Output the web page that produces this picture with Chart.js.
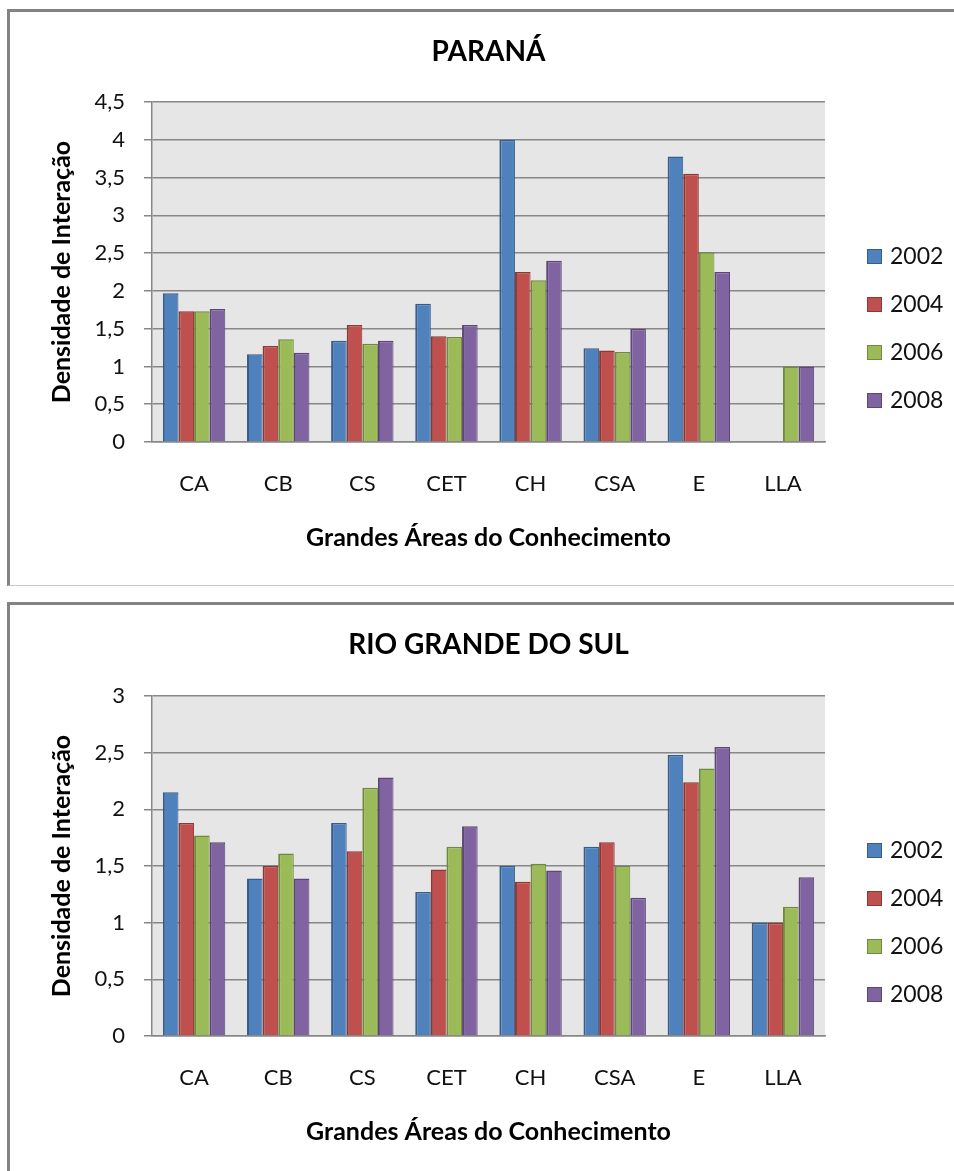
<!DOCTYPE html>
<html>
<head>
<meta charset="utf-8">
<title>Densidade de Interação — Paraná e Rio Grande do Sul</title>
<script src="https://cdn.jsdelivr.net/npm/chart.js@4.4.1/dist/chart.umd.min.js"></script>
<style>
  html, body { margin: 0; padding: 0; background: #fff; width: 954px; height: 1171px; overflow: hidden; }
  .frame { position: absolute; left: 7px; width: 960px; border-left: 3px solid #838383; border-top: 3px solid #838383; box-sizing: border-box; }
  #frameTop { top: 9px; height: 577px; border-bottom: 1px solid #c8c8c8; }
  #frameBottom { top: 602px; height: 600px; }
  canvas { position: absolute; left: 0; }
  #chartTop { top: 0; }
  #chartBottom { top: 594px; }
</style>
</head>
<body>
<div class="frame" id="frameTop"></div>
<div class="frame" id="frameBottom"></div>
<canvas id="chartTop" width="954" height="595"></canvas>
<canvas id="chartBottom" width="954" height="595"></canvas>
<script>
// Grandes áreas do conhecimento (eixo X)
const categories = ['CA', 'CB', 'CS', 'CET', 'CH', 'CSA', 'E', 'LLA'];
const years = ['2002', '2004', '2006', '2008'];

// Paraná — densidade de interação por ano
const parana2002 = [1.97, 1.16, 1.34, 1.83, 4.00, 1.24, 3.78, null];
const parana2004 = [1.73, 1.27, 1.55, 1.40, 2.25, 1.21, 3.55, null];
const parana2006 = [1.73, 1.36, 1.30, 1.39, 2.14, 1.19, 2.51, 1.00];
const parana2008 = [1.76, 1.18, 1.34, 1.55, 2.40, 1.50, 2.25, 1.00];

// Rio Grande do Sul — densidade de interação por ano
const rs2002 = [2.15, 1.39, 1.88, 1.27, 1.50, 1.67, 2.48, 1.00];
const rs2004 = [1.88, 1.50, 1.63, 1.47, 1.36, 1.71, 2.24, 1.00];
const rs2006 = [1.77, 1.61, 2.19, 1.67, 1.52, 1.50, 2.36, 1.14];
const rs2008 = [1.71, 1.39, 2.28, 1.85, 1.46, 1.22, 2.55, 1.40];

// Eixo Y: limites e passo
const paranaMax = 4.5;
const rsMax = 3;
const yStep = 0.5;

// Cores das séries
const fillColors = ['#4f81bd', '#c0504d', '#9bbb59', '#8064a2'];
const edgeColors = ['#385d8a', '#8c3836', '#71893f', '#5c4776'];

const FONT = "Lato, 'Open Sans', 'DejaVu Sans', sans-serif";
const GRID = '#878787';

// Fundo cinza da área de plotagem
const plotBackground = {
  id: 'plotBackground',
  beforeDraw(chart) {
    const { ctx, chartArea: a } = chart;
    ctx.save();
    ctx.fillStyle = '#e6e6e6';
    ctx.fillRect(a.left, a.top, a.right - a.left, a.bottom - a.top);
    ctx.restore();
  }
};

// Legenda vertical à direita do gráfico
const sideLegend = {
  id: 'sideLegend',
  afterDraw(chart) {
    const ctx = chart.ctx;
    const x = chart.chartArea.right + 42;
    const y0 = 256;
    const step = 48;
    ctx.save();
    ctx.font = '23px ' + FONT;
    ctx.textBaseline = 'middle';
    ctx.textAlign = 'left';
    chart.data.datasets.forEach((ds, i) => {
      const y = y0 + i * step;
      ctx.fillStyle = ds.backgroundColor;
      ctx.fillRect(x, y - 7, 15, 15);
      ctx.strokeStyle = ds.borderColor;
      ctx.lineWidth = 1;
      ctx.strokeRect(x + 0.5, y - 6.5, 14, 14);
      ctx.fillStyle = '#111';
      ctx.fillText(ds.label, x + 23, y + 1);
    });
    ctx.restore();
  }
};

function makeDatasets(series) {
  return series.map((values, i) => ({
    label: years[i],
    data: values,
    backgroundColor: fillColors[i],
    borderColor: edgeColors[i],
    borderWidth: { top: 1.5, left: 2, right: 1, bottom: 0 },
    borderSkipped: 'start',
    categoryPercentage: 0.742,
    barPercentage: 1.0
  }));
}

function makeChart(canvasId, titleText, series, yMax, titleTop) {
  return new Chart(document.getElementById(canvasId), {
    type: 'bar',
    data: { labels: categories, datasets: makeDatasets(series) },
    options: {
      responsive: false,
      animation: false,
      layout: { padding: { left: 0, right: 129, top: 0, bottom: 0 } },
      plugins: {
        legend: { display: false },
        tooltip: { enabled: false },
        title: {
          display: true,
          text: titleText,
          fullSize: false,
          color: '#000',
          font: { family: FONT, size: 28, weight: 'bold' },
          padding: { top: titleTop, bottom: 102 - titleTop - 33.6 }
        }
      },
      scales: {
        x: {
          grid: { display: false, drawTicks: false },
          border: { display: true, color: GRID, width: 1.5 },
          ticks: { color: '#111', padding: 29, font: { family: FONT, size: 22 } },
          title: {
            display: true,
            text: 'Grandes Áreas do Conhecimento',
            color: '#000',
            font: { family: FONT, size: 25, weight: 'bold' },
            padding: { top: 0, bottom: 42 }
          },
          afterFit(scale) { scale.height = 595 - 442; }
        },
        y: {
          min: 0,
          max: yMax,
          ticks: {
            stepSize: yStep,
            color: '#111',
            padding: 19,
            font: { family: FONT, size: 22 },
            callback: v => String(v).replace('.', ',')
          },
          grid: { color: GRID, lineWidth: 1.5, tickLength: 8, drawTicks: true },
          border: { display: true, color: GRID, width: 1.5 },
          title: {
            display: true,
            text: 'Densidade de Interação',
            color: '#000',
            font: { family: FONT, size: 25, weight: 'bold' },
            padding: { top: 47, bottom: 0 }
          },
          afterFit(scale) { scale.width = 152; }
        }
      }
    },
    plugins: [plotBackground, sideLegend]
  });
}

makeChart('chartTop', 'PARANÁ', [parana2002, parana2004, parana2006, parana2008], paranaMax, 35);
makeChart('chartBottom', 'RIO GRANDE DO SUL', [rs2002, rs2004, rs2006, rs2008], rsMax, 34);
</script>
</body>
</html>
